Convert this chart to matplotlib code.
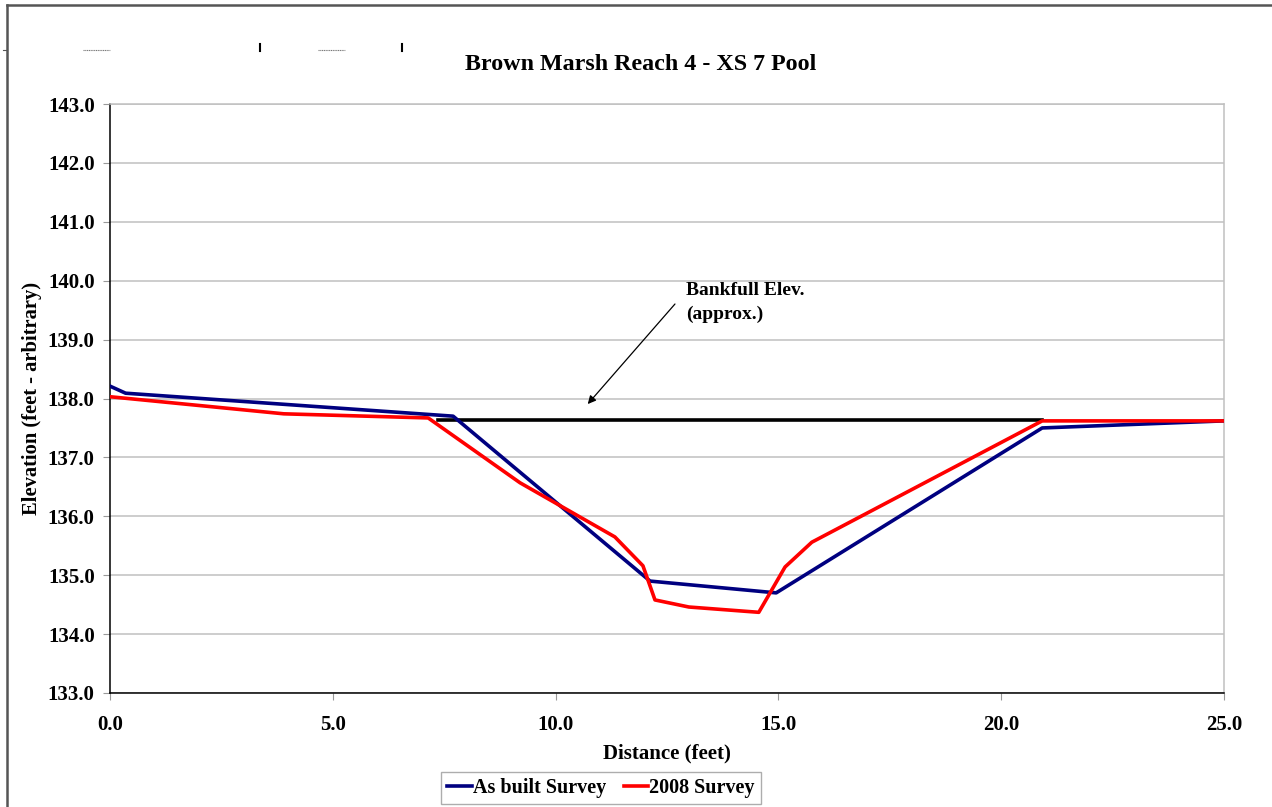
import matplotlib
matplotlib.use("Agg")
import matplotlib.pyplot as plt
from matplotlib.lines import Line2D

# Data
asbuilt_x = [0.0, 0.35, 7.7, 12.12, 14.95, 20.92, 25.0]
asbuilt_y = [138.21, 138.09, 137.70, 134.90, 134.70, 137.50, 137.62]

survey2008_x = [0.0, 3.9, 7.14, 9.2, 11.33, 11.96, 12.23, 12.99, 14.56, 15.15, 15.75, 20.92, 25.0]
survey2008_y = [138.03, 137.74, 137.67, 136.57, 135.65, 135.16, 134.58, 134.46, 134.37, 135.14, 135.56, 137.62, 137.62]

bankfull_x = [7.36, 20.92]
bankfull_y = [137.63, 137.63]

x_ticks = [0, 5, 10, 15, 20, 25]
y_ticks = [133, 134, 135, 136, 137, 138, 139, 140, 141, 142, 143]

title = "Brown Marsh Reach 4 - XS 7 Pool"
xlabel = "Distance (feet)"
ylabel = "Elevation (feet - arbitrary)"
series_labels = ["As built Survey", "2008 Survey"]
annot_text = "Bankfull Elev.\n(approx.)"

plt.rcParams['font.family'] = ['Liberation Serif', 'DejaVu Serif']
plt.rcParams['font.weight'] = 'bold'

fig = plt.figure(figsize=(12.72, 8.07), dpi=100)
ax = fig.add_axes([110/1272, 1-693/807, (1224-110)/1272, (693-104)/807])

LW = 2.6
ax.plot(asbuilt_x, asbuilt_y, color='#000080', lw=LW, label=series_labels[0], zorder=3)
ax.plot(survey2008_x, survey2008_y, color='#ff0000', lw=LW, label=series_labels[1], zorder=4)
ax.plot(bankfull_x, bankfull_y, color='black', lw=LW, zorder=2)

ax.annotate("", xy=(10.68, 137.87), xytext=(12.72, 139.64),
            arrowprops=dict(arrowstyle='-|>', color='black', lw=0.9, mutation_scale=12))
ax.text(12.93, 139.97, annot_text, fontsize=14, fontweight='bold', va='top', ha='left',
        linespacing=1.5)

ax.set_xlim(0, 25)
ax.set_ylim(133, 143)
ax.set_xticks(x_ticks)
ax.set_xticklabels([f"{v:.1f}" for v in x_ticks])
ax.set_yticks(y_ticks)
ax.set_yticklabels([f"{v:.1f}" for v in y_ticks])
ax.tick_params(axis='both', labelsize=15, length=5, width=0.8, color='#999999')
ax.tick_params(axis='x', pad=11)
ax.tick_params(axis='y', pad=6)
for lab in ax.get_xticklabels() + ax.get_yticklabels():
    lab.set_fontweight('bold')

ax.grid(axis='y', color='#c0c0c0', lw=1.1)
ax.set_axisbelow(True)
ax.spines['left'].set_color('black')
ax.spines['bottom'].set_color('black')
ax.spines['top'].set_color('#c0c0c0')
ax.spines['right'].set_color('#c0c0c0')
for s in ax.spines.values():
    s.set_linewidth(1.1)

ax.set_xlabel(xlabel, fontsize=15, fontweight='bold', labelpad=6)
ax.set_ylabel(ylabel, fontsize=14.8, fontweight='bold', labelpad=4)
fig.text(641/1272, 1-65/807, title, fontsize=17.3, fontweight='bold', ha='center', va='center')

handles = [Line2D([], [], color='#000080', lw=LW), Line2D([], [], color='#ff0000', lw=LW)]
leg = fig.legend(handles, series_labels, loc='lower center', bbox_to_anchor=(601/1272, 0.0),
                 ncol=2, fontsize=14.5, frameon=True, fancybox=False, handlelength=1.2,
                 handletextpad=0.05, columnspacing=0.9, borderpad=0.3, borderaxespad=0.15)
leg.get_frame().set_edgecolor('#999999')
leg.get_frame().set_linewidth(1.0)
for t in leg.get_texts():
    t.set_fontweight('bold')

# figure frame (left and top edges)
W, H = 1272, 807
def fline(xs, ys, **kw):
    fig.add_artist(Line2D([x / W for x in xs], [1 - y / H for y in ys], transform=fig.transFigure, **kw))

fline([7, 7], [807, 5], color='#555555', lw=1.8)
fline([7, 1272], [5, 5], color='#555555', lw=1.8)
# small leftover marks near the top of the original
fline([83, 110], [50, 50], color='#777777', lw=0.8, linestyle=(0, (1, 0.6)))
fline([318, 345], [50, 50], color='#777777', lw=0.8, linestyle=(0, (1, 0.6)))
fline([260, 260], [44, 51], color='black', lw=1.5)
fline([402, 402], [44, 51], color='black', lw=1.5)
fline([3, 7], [50, 50], color='#555555', lw=0.8)

fig.savefig("out.png", dpi=100)
